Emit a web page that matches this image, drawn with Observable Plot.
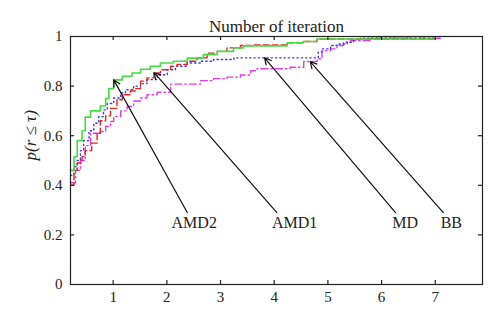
<!DOCTYPE html>
<html><head><meta charset="utf-8">
<script src="https://cdn.jsdelivr.net/npm/d3@7"></script>
<script src="https://cdn.jsdelivr.net/npm/@observablehq/plot@0.6"></script>
<style>body{margin:0;background:#fff}</style>
</head><body><div id="chart"></div>
<script>
// Performance profiles (step curves)
const amd2X = [0.205,0.27,0.33,0.42,0.48,0.58,0.76,0.86,0.92,1.01,1.17,1.35,1.51,1.69,1.88,2.12,2.38,2.68,2.94,3.24,3.43,4.24,4.54,4.80,7.0];
const amd2Y = [0.46,0.515,0.58,0.62,0.675,0.70,0.72,0.75,0.79,0.825,0.84,0.853,0.868,0.88,0.893,0.90,0.913,0.927,0.94,0.954,0.962,0.975,0.98,0.99,0.99];

const amd1X = [0.205,0.27,0.33,0.42,0.48,0.60,0.70,0.76,0.86,0.95,1.07,1.17,1.32,1.42,1.51,1.63,1.76,1.88,2.07,2.19,2.38,2.56,2.75,2.94,3.12,3.37,3.62,4.24,4.54,4.80,7.0];
const amd1Y = [0.40,0.46,0.49,0.515,0.54,0.57,0.61,0.66,0.68,0.71,0.745,0.765,0.78,0.79,0.82,0.833,0.853,0.866,0.88,0.887,0.90,0.914,0.933,0.94,0.954,0.964,0.966,0.975,0.98,0.99,0.99];

const mdX = [0.205,0.27,0.33,0.39,0.45,0.55,0.64,0.73,0.82,0.89,1.01,1.14,1.23,1.38,1.51,1.63,1.82,2.01,2.16,2.38,2.63,2.87,3.25,4.82,4.89,5.05,5.17,5.36,5.48,5.60,7.0];
const mdY = [0.44,0.475,0.50,0.54,0.58,0.62,0.65,0.677,0.704,0.73,0.752,0.772,0.785,0.80,0.81,0.826,0.846,0.866,0.88,0.893,0.90,0.907,0.914,0.937,0.95,0.964,0.97,0.977,0.988,0.993,0.993];

const bbX = [0.205,0.30,0.39,0.48,0.58,0.77,0.86,0.95,1.01,1.14,1.26,1.38,1.51,1.63,1.82,2.07,2.63,2.87,3.12,3.37,3.56,3.68,4.30,4.55,4.80,4.89,5.05,5.17,5.29,5.42,5.79,7.15];
const bbY = [0.41,0.46,0.50,0.56,0.61,0.617,0.637,0.657,0.677,0.70,0.718,0.74,0.752,0.765,0.775,0.808,0.822,0.83,0.836,0.845,0.862,0.87,0.876,0.899,0.91,0.943,0.95,0.964,0.977,0.984,0.993,0.993];

// Annotations
const labels = ["AMD2","AMD1","MD","BB"];
const tipX = [1.01,1.76,3.82,4.67];
const tipY = [0.825,0.855,0.914,0.899];
const tailX = [2.38,4.05,6.26,7.15];
const tailY = [0.29,0.29,0.29,0.29];
const labelX = [2.51,4.38,6.44,7.30];
const labelY = [0.247,0.247,0.247,0.247];

const xTicks = [1,2,3,4,5,6,7];
const yTicks = [0,0.2,0.4,0.6,0.8,1];

const series = [
  {name:"BB", x:bbX, y:bbY, color:"#e23ce2", dash:"7,3,1.5,3"},
  {name:"MD", x:mdX, y:mdY, color:"#3a3ae6", dash:"1.3,3"},
  {name:"AMD1", x:amd1X, y:amd1Y, color:"#e02828", dash:"6,3"},
  {name:"AMD2", x:amd2X, y:amd2Y, color:"#44dd44", dash:null}
];

const annot = labels.map((t,i) => ({t, tx:tipX[i], ty:tipY[i], sx:tailX[i], sy:tailY[i], lx:labelX[i], ly:labelY[i]}));

const font = "'Liberation Serif', 'DejaVu Serif', serif";
const W = 500, H = 327, mL = 70, mR = 18, mT = 36, mB = 43;
const fw = W - mL - mR, fh = H - mT - mB, tk = 4;

const chart = Plot.plot({
  width: W, height: H,
  marginLeft: mL, marginRight: mR, marginTop: mT, marginBottom: mB,
  style: {fontFamily: font, fontSize: "15px", color: "#222", background: "#fff"},
  x: {domain: [0.205, 7.88]},
  y: {domain: [0, 1]},
  marks: [
    ...series.map(s => Plot.line(s.x.map((x,i)=>({x, y:s.y[i]})), {
      x:"x", y:"y", curve:"step-after", stroke:s.color, strokeWidth: s.dash ? 1.4 : 1.6,
      strokeDasharray: s.dash ?? undefined
    })),
    Plot.frame({stroke:"#222", strokeWidth:1.2}),
    // inward ticks
    Plot.tickX(xTicks, {x: d => d, insetTop: fh - tk, stroke:"#222", strokeWidth:1.2}),
    Plot.tickX(xTicks, {x: d => d, insetBottom: fh - tk, stroke:"#222", strokeWidth:1.2}),
    Plot.tickY(yTicks.slice(1, -1), {y: d => d, insetRight: fw - tk, stroke:"#222", strokeWidth:1.2}),
    Plot.tickY(yTicks.slice(1, -1), {y: d => d, insetLeft: fw - tk, stroke:"#222", strokeWidth:1.2}),
    Plot.axisX(xTicks, {anchor:"bottom", tickSize:0, tickPadding:7, tickFormat: d => String(d), label:null}),
    Plot.axisY(yTicks, {anchor:"left", tickSize:0, tickPadding:8, tickFormat: d => String(d), label:null}),
    Plot.arrow(annot, {x1:"sx", y1:"sy", x2:"tx", y2:"ty", stroke:"#111", strokeWidth:1.2, headLength:9, headAngle:55}),
    Plot.text(annot, {x:"lx", y:"ly", text:"t", fontSize:16, fill:"#222"}),
    Plot.text(["Number of iteration"], {frameAnchor:"top", dy:-17, fontSize:17, fill:"#222"}),
    Plot.text(["p(r \u2264 \u03c4)"], {frameAnchor:"left", dx:-40, rotate:-90, fontSize:17, fontStyle:"italic", fill:"#222"})
  ]
});
document.getElementById("chart").appendChild(chart);
</script>
</body></html>
